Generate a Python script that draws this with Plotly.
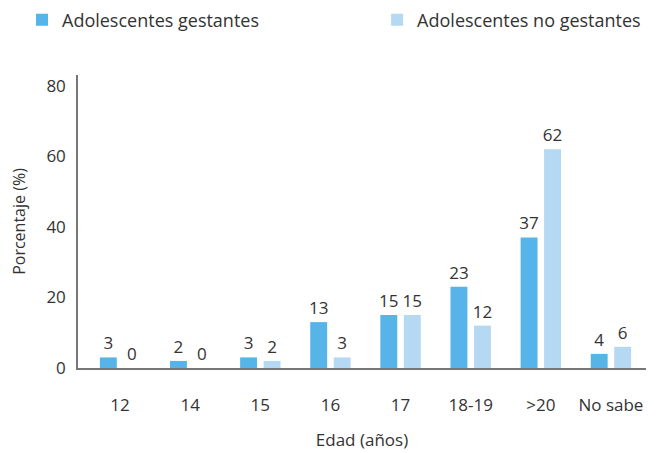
import plotly.graph_objects as go

categories = ["12", "14", "15", "16", "17", "18-19", ">20", "No sabe"]
gestantes = [3, 2, 3, 13, 15, 23, 37, 4]
no_gestantes = [0, 0, 2, 3, 15, 12, 62, 6]
y_ticks = [0, 20, 40, 60, 80]

FONT = "Open Sans"
TXT = "#333333"

fig = go.Figure()
fig.add_trace(go.Bar(
    x=categories, y=gestantes, name="Adolescentes gestantes",
    marker=dict(color="#56B4E9", line_width=0),
    text=[str(v) for v in gestantes], textposition="outside",
    constraintext="none",
    textfont=dict(size=17, color=TXT, family=FONT), cliponaxis=False,
    legend="legend",
))
fig.add_trace(go.Bar(
    x=categories, y=no_gestantes, name="Adolescentes no gestantes",
    marker=dict(color="#B5D8F3", line_width=0),
    text=[str(v) for v in no_gestantes], textposition="outside",
    constraintext="none",
    textfont=dict(size=17, color=TXT, family=FONT), cliponaxis=False,
    legend="legend2",
))

leg_common = dict(
    orientation="h", xref="container", yref="container",
    xanchor="left", yanchor="middle",
    font=dict(size=18, color=TXT, family=FONT),
    bgcolor="rgba(0,0,0,0)",
)

fig.update_layout(
    width=651, height=445,
    margin=dict(l=70, r=13, t=67, b=85, autoexpand=False),
    paper_bgcolor="white", plot_bgcolor="white",
    font=dict(family=FONT, color=TXT, size=15),
    barmode="group", bargap=0.33, bargroupgap=0.28,
    legend=dict(x=0.0215, y=0.973, **leg_common),
    legend2=dict(x=0.567, y=0.973, **leg_common),
    showlegend=True,
)
fig.update_xaxes(
    type="category", range=[-0.6, 7.5], automargin=False,
    showline=True, linecolor="#777777", linewidth=1.5,
    showgrid=False, zeroline=False,
    ticks="outside", tickcolor="white", ticklen=21,
    tickfont=dict(size=17, color=TXT),
    title=dict(text="Edad (años)", font=dict(size=17, color=TXT), standoff=19),
)
fig.update_yaxes(
    range=[0, 83], tickvals=y_ticks, automargin=False,
    showline=True, linecolor="#777777", linewidth=1.5,
    showgrid=False, zeroline=False,
    ticks="outside", tickcolor="white", ticklen=7,
    tickfont=dict(size=17, color=TXT),
    title=dict(text="Porcentaje (%)", font=dict(size=16, color=TXT), standoff=19),
)

fig.write_html("out.html")
